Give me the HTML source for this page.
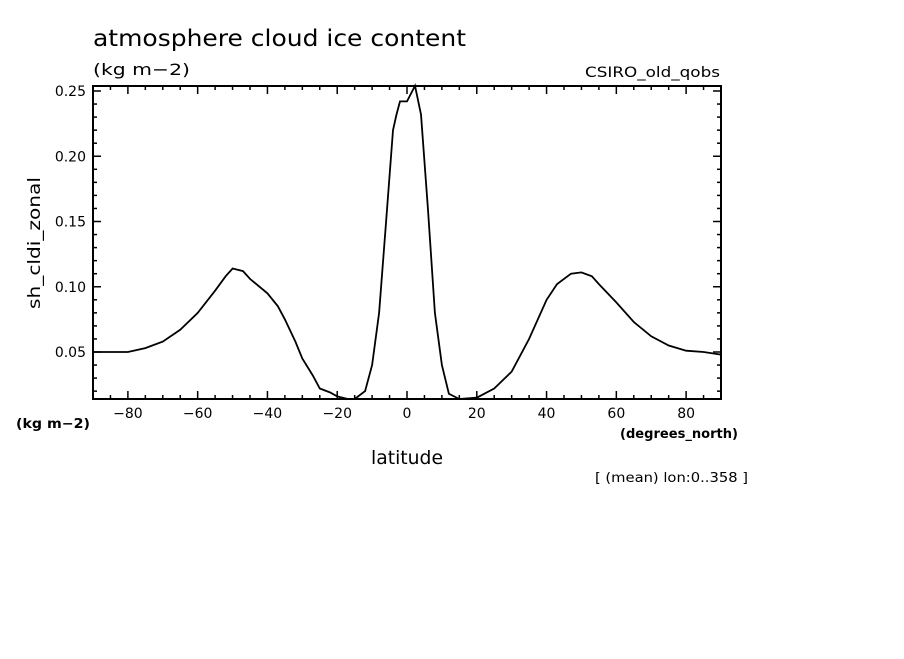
<!DOCTYPE html>
<html><head><meta charset="utf-8"><style>
body{margin:0;background:#fff;}
svg text{font-family:"DejaVu Sans","Liberation Sans",sans-serif;fill:#000;}
</style></head><body>
<svg width="904" height="654" viewBox="0 0 904 654">
<text x="93" y="46" font-size="23" textLength="373" lengthAdjust="spacingAndGlyphs">atmosphere cloud ice content</text>
<text x="93" y="75" font-size="16" textLength="97" lengthAdjust="spacingAndGlyphs">(kg m−2)</text>
<text x="585" y="77" font-size="14" textLength="135" lengthAdjust="spacingAndGlyphs">CSIRO_old_qobs</text>
<g id="axes"></g>
<path id="line" fill="none" stroke="#000" stroke-width="1.8"/>
<rect x="93" y="86" width="628" height="313" fill="none" stroke="#000" stroke-width="2"/>
<text x="16" y="428" font-size="13" font-weight="bold" textLength="74" lengthAdjust="spacingAndGlyphs">(kg m−2)</text>
<text x="620" y="438" font-size="13" font-weight="bold" textLength="118" lengthAdjust="spacingAndGlyphs">(degrees_north)</text>
<text x="371" y="464" font-size="19" textLength="72" lengthAdjust="spacingAndGlyphs">latitude</text>
<text x="40" y="243" font-size="17" text-anchor="middle" textLength="132" lengthAdjust="spacingAndGlyphs" transform="rotate(-90 40 243)">sh_cldi_zonal</text>
<text x="595" y="482" font-size="13" textLength="153" lengthAdjust="spacingAndGlyphs">[ (mean) lon:0..358 ]</text>
</svg>
<script>
const lats=[-90,-80,-75,-70,-65,-60,-55,-52,-50,-47,-45,-40,-37,-35,-32,-30,-27,-25,-22,-20,-17,-15,-12,-10,-8,-6,-4,-3,-2,0,2.3,4,6,8,10,12,15,20,25,30,35,40,43,47,50,53,55,60,65,70,75,80,85,90];
const vals=[0.050,0.050,0.053,0.058,0.067,0.080,0.097,0.108,0.114,0.112,0.106,0.095,0.085,0.075,0.058,0.045,0.032,0.022,0.019,0.016,0.014,0.014,0.020,0.040,0.080,0.150,0.220,0.232,0.242,0.242,0.254,0.232,0.160,0.080,0.040,0.018,0.014,0.015,0.022,0.035,0.060,0.090,0.102,0.110,0.111,0.108,0.102,0.088,0.073,0.062,0.055,0.051,0.050,0.048];
const xTicks=[-80,-60,-40,-20,0,20,40,60,80];
const yTicks=[0.05,0.10,0.15,0.20,0.25];
const NS="http://www.w3.org/2000/svg";
const X0=93,X1=721,Y0=399,Y1=86;
const xs=v=>X0+(v+90)/180*(X1-X0);
const ys=v=>352-(v-0.05)*1305;
const g=document.getElementById('axes');
function mk(t,a){const e=document.createElementNS(NS,t);for(const k in a)e.setAttribute(k,a[k]);g.appendChild(e);return e;}
for(let v=-90;v<=90;v+=5){const x=xs(v);const L=(v%20===0)?8:4;
 const t1=mk('line',{x1:x,x2:x,y1:Y0,y2:Y0-L,stroke:'#000','stroke-width':1.5});
 
 
 const t2=mk('line',{x1:x,x2:x,y1:Y1,y2:Y1+L,stroke:'#000','stroke-width':1.5});
 
 }
for(let i=2;i<=25;i++){const v=i/100;const y=ys(v);if(y>Y0)continue;const L=(i%5===0)?8:4;
 const t1=mk('line',{x1:X0,x2:X0+L,y1:y,y2:y,stroke:'#000','stroke-width':1.5});
 
 
 const t2=mk('line',{x1:X1,x2:X1-L,y1:y,y2:y,stroke:'#000','stroke-width':1.5});
 
 }
xTicks.forEach(v=>{const t=mk('text',{x:xs(v),y:418,'font-size':14,'text-anchor':'middle'});
 
 
 t.textContent=(v<0?'−':'')+Math.abs(v);});
yTicks.forEach(v=>{const t=mk('text',{x:86,y:ys(v)+5,'font-size':14,'text-anchor':'end'});
 
 
 t.textContent=v.toFixed(2);});
document.getElementById('line').setAttribute('d',lats.map((l,i)=>(i?'L':'M')+xs(l).toFixed(1)+','+ys(vals[i]).toFixed(1)).join(''));
</script>
</body></html>
